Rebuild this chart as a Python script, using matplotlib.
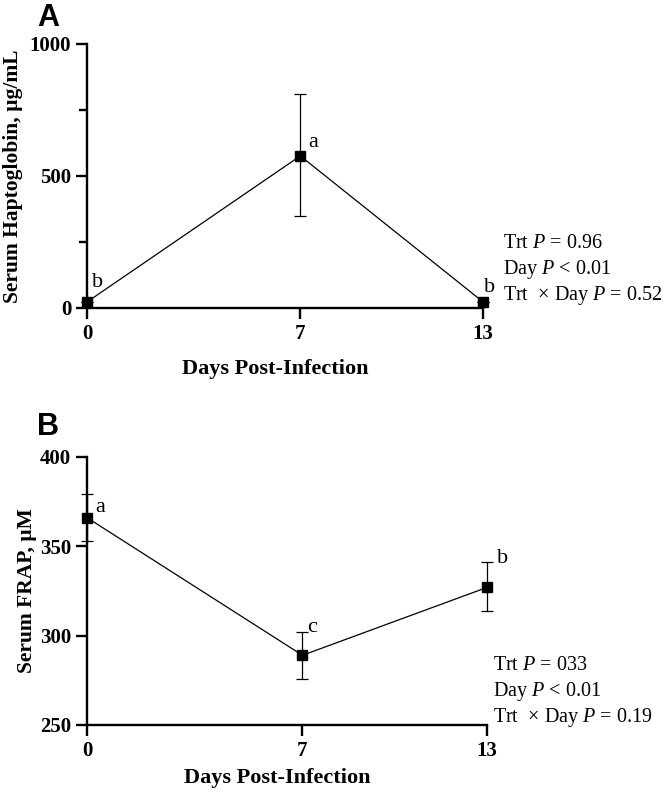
import matplotlib.pyplot as plt
from matplotlib.ticker import MultipleLocator

plt.rcParams['font.family'] = ['Liberation Serif', 'DejaVu Serif']
plt.rcParams['mathtext.fontset'] = 'custom'
plt.rcParams['mathtext.rm'] = 'Liberation Serif'
plt.rcParams['mathtext.it'] = 'Liberation Serif:italic'

# data
days = [0, 7, 13]
day_labels = ['0', '7', '13']

hp_mean = [23, 576, 23]
hp_lo = [23, 347, 23]
hp_hi = [23, 810, 23]
hp_letters = ['b', 'a', 'b']
hp_stats = ['Trt $P$ = 0.96', 'Day $P$ < 0.01', 'Trt  × Day $P$ = 0.52']

frap_mean = [366, 289, 327]
frap_lo = [353, 276, 314]
frap_hi = [379, 302, 341]
frap_letters = ['a', 'c', 'b']
frap_stats = ['Trt $P$ = 033', 'Day $P$ < 0.01', 'Trt  × Day $P$ = 0.19']

fig = plt.figure(figsize=(6.7, 7.95), dpi=100)
axA = fig.add_axes([0.130, 0.6126, 0.591, 0.3321])
axB = fig.add_axes([0.130, 0.0881, 0.597, 0.3371])


def style(ax, ylab, ylab_x, xlab_y):
    for s in ['top', 'right']:
        ax.spines[s].set_visible(False)
    for s in ['left', 'bottom']:
        ax.spines[s].set_linewidth(1.7)
    ax.set_xlim(0, 13)
    ax.set_xticks(days)
    ax.set_xticklabels(day_labels)
    ax.tick_params(width=1.7, length=8, labelsize=15)
    ax.tick_params(which='minor', width=1.7, length=6)
    for lab in ax.get_xticklabels() + ax.get_yticklabels():
        lab.set_fontweight('bold')
    ax.set_xlabel('Days Post-Infection', fontsize=16, fontweight='bold')
    ax.set_ylabel(ylab, fontsize=15.5, fontweight='bold')
    ax.yaxis.set_label_coords(ylab_x, 0.5)
    ax.xaxis.set_label_coords(0.475, xlab_y)


def draw(ax, mean, lo, hi):
    err = [[m - l for m, l in zip(mean, lo)], [h - m for m, h in zip(mean, hi)]]
    ax.errorbar(days, mean, yerr=err, color='black', lw=0.9, elinewidth=0.9,
                capsize=4, capthick=0.9, marker='s', ms=7.5, clip_on=False, zorder=5)


# panel A
draw(axA, hp_mean, hp_lo, hp_hi)
axA.set_ylim(0, 1000)
axA.yaxis.set_major_locator(MultipleLocator(500))
axA.yaxis.set_minor_locator(MultipleLocator(250))
style(axA, 'Serum Haptoglobin, µg/mL', -0.162, -0.195)
offsA = [(3.6, 10.8), (5.8, 6.5), (0.7, 7.2)]
for d, m, t, o in zip(days, hp_mean, hp_letters, offsA):
    axA.annotate(t, (d, m), xytext=o, textcoords='offset points', fontsize=16, va='baseline')
for i, s in enumerate(hp_stats):
    fig.text(0.751, 0.6943 - i * 0.0327, s, fontsize=14.5, va='center')
fig.text(0.055, 0.9673, 'A', fontsize=22, fontweight='bold', family='Liberation Sans', va='baseline')

# panel B
draw(axB, frap_mean, frap_lo, frap_hi)
axB.set_ylim(250, 400)
axB.yaxis.set_major_locator(MultipleLocator(50))
style(axB, 'Serum FRAP, µM', -0.125, -0.160)
offsB = [(5.8, 4.3), (3.6, 16.6), (7.2, 17.3)]
for d, m, t, o in zip(days, frap_mean, frap_letters, offsB):
    axB.annotate(t, (d, m), xytext=o, textcoords='offset points', fontsize=16, va='baseline')
for i, s in enumerate(frap_stats):
    fig.text(0.736, 0.1635 - i * 0.0327, s, fontsize=14.5, va='center')
fig.text(0.055, 0.4528, 'B', fontsize=22, fontweight='bold', family='Liberation Sans', va='baseline')

fig.savefig('out.png', dpi=100)
